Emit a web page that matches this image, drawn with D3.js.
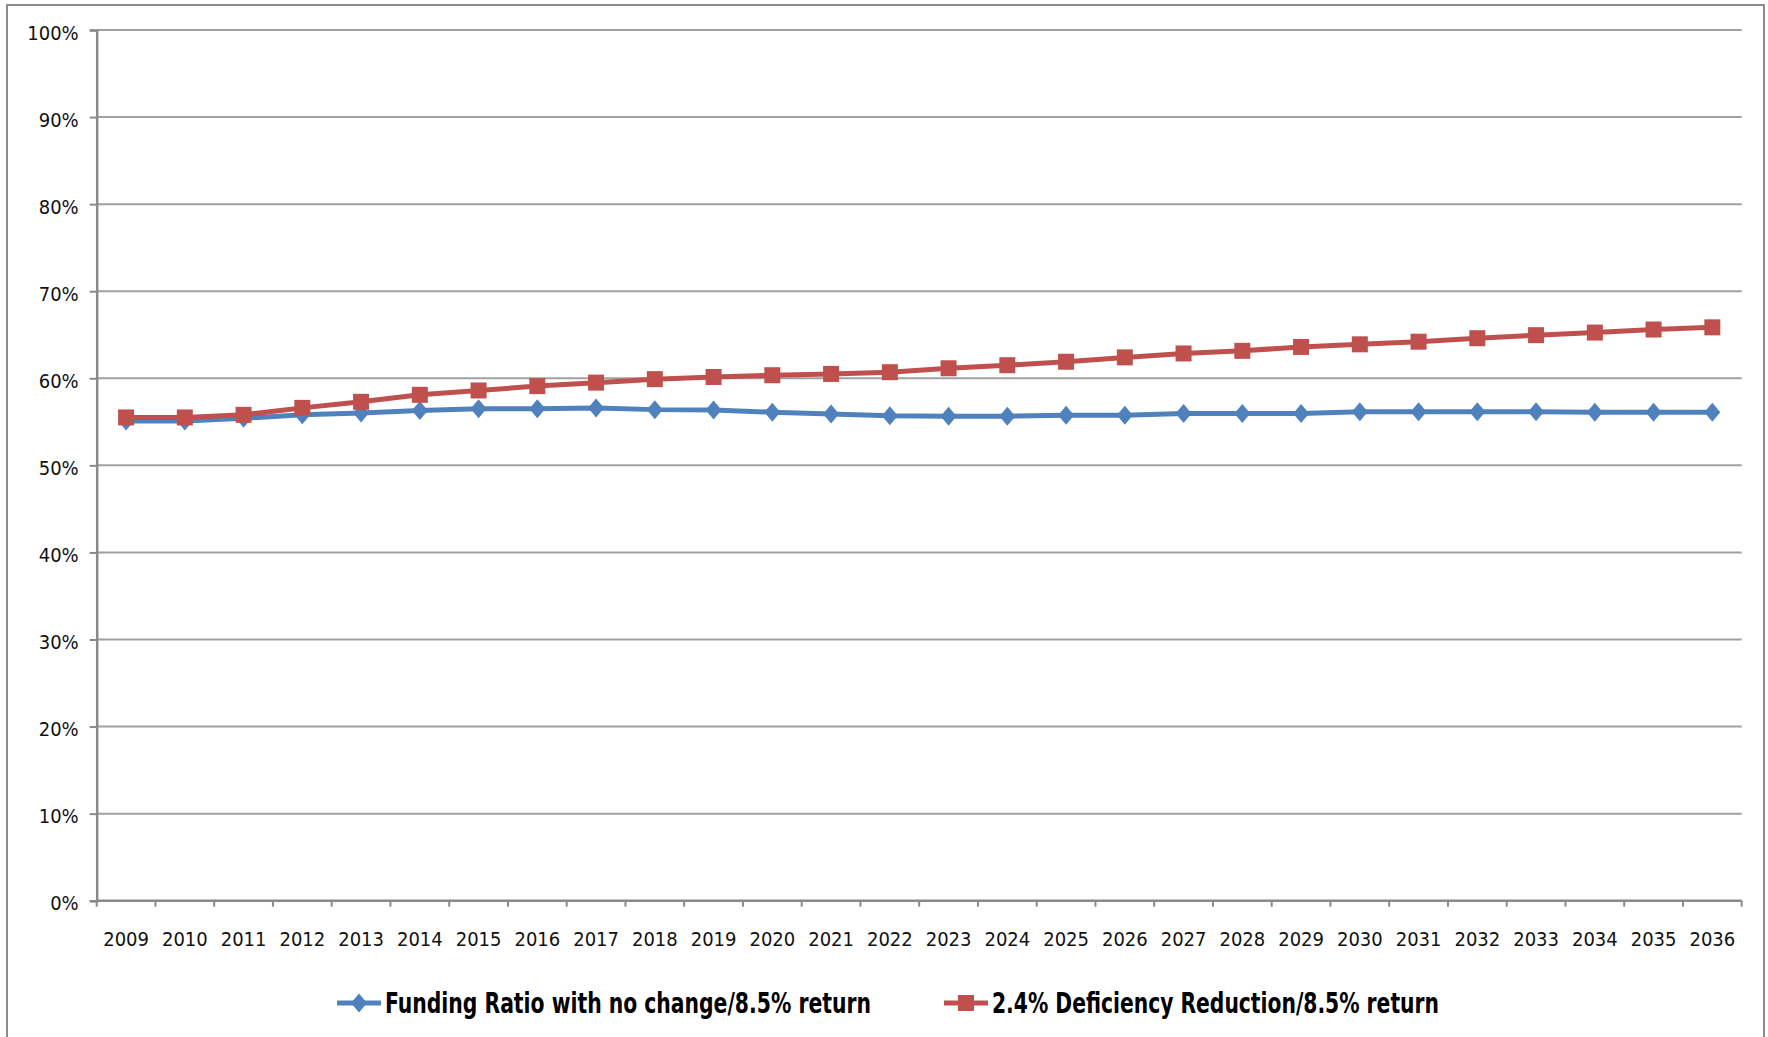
<!DOCTYPE html>
<html>
<head>
<meta charset="utf-8">
<script src="https://cdn.jsdelivr.net/npm/d3@7"></script>
<style>
  html, body { margin: 0; padding: 0; background: #fff; }
  svg { display: block; }
  .tick text { font-family: "DejaVu Sans Condensed", "DejaVu Sans", sans-serif; font-stretch: condensed; fill: #111; }
</style>
</head>
<body>
<svg id="chart" width="1768" height="1037"></svg>
<script>
// Years on the category axis
const years = ["2009","2010","2011","2012","2013","2014","2015","2016","2017","2018",
  "2019","2020","2021","2022","2023","2024","2025","2026","2027","2028",
  "2029","2030","2031","2032","2033","2034","2035","2036"];

// Funding ratio (%) with no change, 8.5% return
const noChange = [55.1, 55.1, 55.4, 55.8, 56.0, 56.3, 56.5, 56.5, 56.6, 56.4,
  56.35, 56.1, 55.9, 55.7, 55.65, 55.65, 55.75, 55.75, 55.95, 55.95,
  55.95, 56.15, 56.15, 56.15, 56.15, 56.1, 56.1, 56.1];

// Funding ratio (%) with 2.4% deficiency reduction, 8.5% return
const deficiencyReduction = [55.5, 55.5, 55.8, 56.6, 57.3, 58.1, 58.6, 59.1, 59.5, 59.9,
  60.15, 60.35, 60.5, 60.7, 61.15, 61.5, 61.9, 62.4, 62.85, 63.15,
  63.6, 63.9, 64.2, 64.6, 64.95, 65.25, 65.6, 65.85];

// Value axis ticks
const yTicks = [0, 10, 20, 30, 40, 50, 60, 70, 80, 90, 100];

const seriesNames = ["Funding Ratio with no change/8.5% return", "2.4% Deficiency Reduction/8.5% return"];

const BLUE = "#4F81BD", RED = "#C0504D";

const svg = d3.select("#chart");
const W = 1768, H = 1037;
const plot = { left: 96.7, right: 1741.7, top: 30, bottom: 900.7 };

// Outer chart frame
svg.append("rect")
  .attr("x", 7).attr("y", 5)
  .attr("width", W - 7 - 4).attr("height", H + 10)
  .attr("fill", "#fff").attr("stroke", "#8c8c8c").attr("stroke-width", 2);

const x = d3.scaleBand().domain(years).range([plot.left, plot.right]).padding(0);
const y = d3.scaleLinear().domain([0, 100]).range([plot.bottom, plot.top]);

// Horizontal gridlines
svg.append("g")
  .selectAll("line")
  .data(yTicks.filter(d => d > 0))
  .join("line")
  .attr("x1", plot.left).attr("x2", plot.right)
  .attr("y1", d => y(d)).attr("y2", d => y(d))
  .attr("stroke", "#a0a0a0").attr("stroke-width", 2);

// Y axis
const yAxis = d3.axisLeft(y)
  .tickValues(yTicks)
  .tickFormat(d => d + "%")
  .tickSize(7)
  .tickPadding(11);
const gy = svg.append("g").attr("transform", `translate(${plot.left},0)`).call(yAxis);
gy.select(".domain").attr("stroke", "#8a8a8a").attr("stroke-width", 2.5);
gy.selectAll(".tick line").attr("stroke", "#8a8a8a").attr("stroke-width", 2);
gy.selectAll(".tick text").attr("font-size", 20).attr("dy", "0.45em");

// X axis: ticks sit on category boundaries
const gx = svg.append("g").attr("transform", `translate(0,${plot.bottom})`);
gx.append("line")
  .attr("x1", plot.left).attr("x2", plot.right)
  .attr("stroke", "#8a8a8a").attr("stroke-width", 2.5);
const boundaries = years.map(d => x(d)).concat([x(years[years.length - 1]) + x.bandwidth()]);
gx.selectAll("line.bt")
  .data(boundaries)
  .join("line")
  .attr("class", "bt")
  .attr("x1", d => d).attr("x2", d => d)
  .attr("y1", 0).attr("y2", 6)
  .attr("stroke", "#8a8a8a").attr("stroke-width", 2);
const xAxis = d3.axisBottom(x).tickSize(0).tickPadding(31);
const gxl = svg.append("g").attr("transform", `translate(0,${plot.bottom})`).call(xAxis);
gxl.select(".domain").remove();
gxl.selectAll(".tick text").attr("font-size", 20);

// Series
const series = [
  { name: seriesNames[0], values: noChange, color: BLUE, marker: "diamond", labelWidth: 486 },
  { name: seriesNames[1], values: deficiencyReduction, color: RED, marker: "square", labelWidth: 447 }
];

const cx = d => x(d) + x.bandwidth() / 2;
const line = d3.line().x(d => cx(d.year)).y(d => y(d.v));

function drawMarker(g, type, px, py, color) {
  if (type === "diamond") {
    g.append("path")
      .attr("d", `M${px},${py - 9.5} L${px + 8},${py} L${px},${py + 9.5} L${px - 8},${py} Z`)
      .attr("fill", color);
  } else {
    g.append("rect")
      .attr("x", px - 8).attr("y", py - 8)
      .attr("width", 16).attr("height", 16)
      .attr("fill", color);
  }
}

series.forEach(s => {
  const pts = years.map((yr, i) => ({ year: yr, v: s.values[i] }));
  const g = svg.append("g");
  g.append("path")
    .datum(pts)
    .attr("d", line)
    .attr("fill", "none")
    .attr("stroke", s.color)
    .attr("stroke-width", 5)
    .attr("stroke-linejoin", "round");
  pts.forEach(p => drawMarker(g, s.marker, cx(p.year), y(p.v), s.color));
});

// Legend
const legendY = 1003;
const legendItems = [
  { s: series[0], x0: 337 },
  { s: series[1], x0: 944 }
];
legendItems.forEach(it => {
  const g = svg.append("g");
  g.append("line")
    .attr("x1", it.x0).attr("x2", it.x0 + 44)
    .attr("y1", legendY).attr("y2", legendY)
    .attr("stroke", it.s.color).attr("stroke-width", 5);
  drawMarker(g, it.s.marker, it.x0 + 22, legendY, it.s.color);
  g.append("text")
    .attr("x", it.x0 + 48).attr("y", legendY)
    .attr("dy", "0.36em")
    .attr("font-family", "'DejaVu Sans Condensed', 'DejaVu Sans', sans-serif")
    .attr("font-stretch", "condensed")
    .attr("font-weight", "bold")
    .attr("font-size", 29)
    .attr("textLength", it.s.labelWidth)
    .attr("lengthAdjust", "spacingAndGlyphs")
    .attr("fill", "#000")
    .text(it.s.name);
});
</script>
</body>
</html>
